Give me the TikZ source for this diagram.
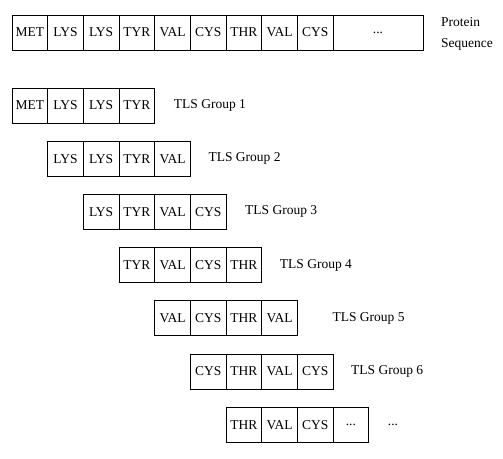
\documentclass[tikz,border=0pt]{standalone}
\usepackage{fontspec}
\setmainfont{Liberation Serif}
\usetikzlibrary{positioning}
% residue names along the sequence
\newcommand\resname[1]{\ifcase#1\or MET\or LYS\or LYS\or TYR\or VAL\or CYS\or THR\or VAL\or CYS\or ...\fi}
\tikzset{
	x=1pt, y=-1pt,
	node distance=0pt,
	every node/.style={font=\fontsize{13.5}{21}\selectfont},
	residue/.style={draw, line width=0.8pt, minimum width=35.67pt, minimum height=35pt, inner sep=0pt, outer sep=0pt},
	grouplabel/.style={anchor=west, inner sep=0pt, align=left},
}
\begin{document}
\begin{tikzpicture}
	\useasboundingbox (0,0) rectangle (503,458);
	% the whole protein sequence
	\foreach \i in {1,...,9}
		\node[residue] (p\i) at ({12+(\i-0.5)*35.67},32.5) {\resname{\i}};
	\node[residue, minimum width=90pt, right=of p9] (p10) {...};
	\node[grouplabel, right=18pt of p10, yshift=-1.5pt] (protein) {Protein\\Sequence};

	% overlapping windows of four residues
	\foreach \g in {1,...,7} {
		\pgfmathsetmacro\rowy{105.5+(\g-1)*53.2}
		\foreach \k in {1,...,4} {
			\pgfmathtruncatemacro\r{\g+\k-1}
			\node[residue] (g\g-\k) at ({12+(\r-0.5)*35.67},\rowy) {\resname{\r}};
		}
	}
	\node[grouplabel, right=19pt of g1-4] (lbl1) {TLS Group 1};
	\node[grouplabel, right=18pt of g2-4] (lbl2) {TLS Group 2};
	\node[grouplabel, right=19pt of g3-4] (lbl3) {TLS Group 3};
	\node[grouplabel, right=18pt of g4-4] (lbl4) {TLS Group 4};
	\node[grouplabel, right=35pt of g5-4] (lbl5) {TLS Group 5};
	\node[grouplabel, right=18pt of g6-4] (lbl6) {TLS Group 6};
	\node[grouplabel, right=19pt of g7-4] (lbl7) {...};
\end{tikzpicture}
\end{document}
